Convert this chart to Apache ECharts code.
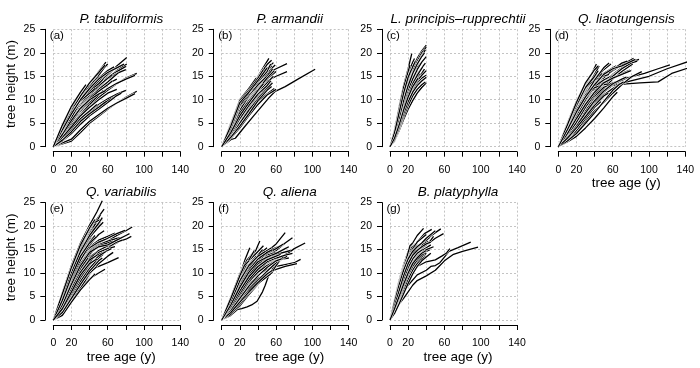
<!DOCTYPE html>
<html>
<head>
<meta charset="utf-8">
<script src="https://cdn.jsdelivr.net/npm/echarts@6/dist/echarts.min.js"></script>
<style>
html,body{margin:0;padding:0;background:#fff;}
#chart{width:700px;height:368px;}
</style>
</head>
<body>
<div id="chart"></div>
<script>
// ---- data: each species = list of trajectories, each trajectory = [age (y), height (m)] pairs ----
const speciesNames = ["P. tabuliformis", "P. armandii", "L. principis\u2013rupprechtii", "Q. liaotungensis", "Q. variabilis", "Q. aliena", "B. platyphylla"];
const panelLetters = ["(a)", "(b)", "(c)", "(d)", "(e)", "(f)", "(g)"];
const xTicks = [0, 20, 40, 60, 80, 100, 120, 140];
const xTickLabels = [0, 20, 60, 100, 140];
const yTicks = [0, 5, 10, 15, 20, 25];

const tabuliformis = [
 [[0,0],[10,4],[20,7.8],[30,11],[40,13.5],[50,16],[58,18]],
 [[0,0],[10,3.6],[20,7.2],[30,10.5],[40,13.2],[50,15.6],[60,17.6]],
 [[0,0],[10,3.2],[20,6.8],[30,9.8],[40,12.8],[50,15.2],[56,16.8]],
 [[0,0],[10,2.6],[20,5.6],[30,8.6],[40,11.2],[50,13.2],[60,15.2],[70,17.2],[81,19]],
 [[0,0],[10,2.2],[20,5.2],[30,8],[40,10.6],[50,12.6],[60,14.6],[70,16.2],[81,17.6]],
 [[0,0],[10,2.8],[20,6],[30,9.2],[40,11.8],[50,13.4],[60,14.8],[70,16],[80,17.1]],
 [[0,0],[10,3],[20,6.6],[30,9.5],[40,11.5],[50,13],[60,14.5],[70,15.6],[80,16.4]],
 [[0,0],[10,1.8],[20,4.4],[30,6.8],[40,8.8],[50,10.5],[60,12],[70,13.4],[80,14.6],[92,15.6]],
 [[0,0],[10,2],[20,4.8],[30,7.4],[40,9.5],[50,11.2],[60,12.4],[70,13.5],[80,14.4],[90,15.2]],
 [[0,0],[10,1.8],[20,4],[30,6],[40,7.6],[50,9],[60,10.2],[70,11.2],[80,12]],
 [[0,0],[10,1.5],[20,3.6],[30,5.5],[40,7.2],[50,8.6],[60,9.8],[75,11.4]],
 [[0,0],[10,0.6],[20,1.2],[30,3],[40,5],[50,6.5],[60,8],[70,9.3],[80,10.5],[92,11.8]],
 [[0,0],[10,0.8],[20,1.6],[30,3.6],[40,5.4],[50,6.8],[60,8.2],[70,9.3],[80,10.3],[90,11.3]],
 [[0,0],[10,2.5],[20,5.8],[30,8.6],[40,11],[50,13],[65,15.4]],
 [[0,0],[10,2.4],[20,5],[30,7.6],[40,10],[50,12],[60,13.4],[70,14.4]],
 [[0,0],[10,3.4],[20,6.6],[30,9],[40,10.8],[50,12],[60,13]],
 [[0,0],[10,4.2],[20,8],[30,10.6],[40,12.8],[50,15]],
 [[0,0],[10,3.8],[20,7.4],[30,10.2],[45,14]],
 [[0,0],[10,4.4],[20,8.2],[30,10.8],[40,13]],
 [[0,0],[10,3.5],[20,6.8],[35,11]],
 [[0,0],[10,2],[20,4.6],[30,7],[40,9],[55,12]],
 [[0,0],[10,2.8],[20,6],[30,9],[40,11.6],[50,13.6],[65,16.5]],
 [[0,0],[10,1.6],[20,3.8],[30,6],[40,7.6],[48,9]],
 [[0,0],[10,2.2],[20,4.6],[30,6.8],[40,9]],
 [[0,0],[10,3],[20,5.8],[30,8]],
 [[0,0],[10,3.2],[20,6.4],[30,9.4],[40,12],[50,14],[60,16]],
 [[0,0],[10,2.6],[20,5.4],[30,8.2],[40,10.4],[50,12.2],[60,13.8],[72,15.8]],
 [[0,0],[10,1.2],[20,2.8],[30,4.8],[40,6.6],[50,8],[60,9.4],[68,10.6]],
 [[0,0],[10,3.8],[20,7.6],[30,10.8],[40,13.6],[50,15.8],[57,17.4]],
 [[0,0],[10,3],[20,6.2],[30,9.6],[40,12.4],[50,14.6],[60,16.2],[67,17]],
 [[0,0],[10,2.4],[20,5.2],[30,8],[40,10.2],[50,11.8],[60,13.2],[65,14]],
 [[0,0],[10,3.4],[20,7],[30,9.8],[40,11.8],[50,13.4],[55,14.4]],
 [[0,0],[10,2],[20,4.2],[30,6.6],[40,8.4],[50,10],[60,11.4],[70,12.2]],
 [[0,0],[10,4],[20,7.4],[30,9.8],[40,11.4],[46,12.4]],
 [[0,0],[10,2.6],[20,5.6],[30,8.2],[40,10],[50,11.2],[58,12]],
 [[0,0],[10,3.6],[20,7],[30,10],[40,12.4],[50,14.4],[60,15.8],[70,16.8],[78,17.6]],
 [[0,0],[10,1.4],[20,3.2],[30,5.4],[40,7],[50,8.4],[58,9.6]],
 [[0,0],[10,4.6],[20,8.6],[30,11.6],[36,13.2]]
];

const armandii = [
 [[0,0],[10,5],[22,10.6],[30,12.2],[40,15],[52,18.8]],
 [[0,0],[10,4.6],[21,10.2],[30,12],[40,14.8],[50,17.5],[55,18.4]],
 [[0,0],[10,4.4],[20,9.6],[30,11.8],[40,14.2],[50,16.6],[57,17.9]],
 [[0,0],[10,4],[20,8.8],[30,11.4],[40,13.6],[50,15.8],[59,17.4]],
 [[0,0],[10,3.6],[20,8],[30,10.8],[40,13.2],[50,15.6],[60,16.6],[72,17.7]],
 [[0,0],[10,3.4],[20,7.4],[30,10.2],[40,12.4],[50,14],[60,15],[72,16]],
 [[0,0],[10,1.5],[15,1.8],[25,4.2],[35,6.5],[45,8.8],[52,10.4],[59,11.8],[70,12.8],[85,14.5],[103,16.5]],
 [[0,0],[10,3],[20,7],[30,10],[40,12.6],[48,15]],
 [[0,0],[10,3.8],[20,8.4],[30,11],[40,13.4],[47,16]],
 [[0,0],[10,4.2],[20,9],[30,11.6],[40,14],[48,17]],
 [[0,0],[10,2.8],[20,6.4],[30,9.2],[40,11.6],[50,13.6],[57,15]],
 [[0,0],[10,2.4],[20,5.6],[30,8.4],[40,10.8],[50,12.8],[55,13.8]],
 [[0,0],[10,2],[20,4.8],[30,7.4],[40,9.6],[50,11.2],[58,12.4]],
 [[0,0],[10,1.8],[20,4],[30,6.6],[40,9],[50,11],[60,12.2]],
 [[0,0],[10,3.2],[20,7.6],[30,10.4],[40,12.8],[44,14]],
 [[0,0],[10,4.8],[20,10],[30,12.4],[38,14.6]],
 [[0,0],[10,2.2],[20,5.2],[30,8],[40,10.4],[45,11.5]],
 [[0,0],[10,3.6],[20,8.2],[30,10.6],[40,13],[50,15.4],[54,16.4]],
 [[0,0],[10,2.6],[20,6],[30,9],[40,11.8],[50,14.6],[56,16.6]],
 [[0,0],[10,4.2],[20,9.2],[30,11.2],[40,13.8],[50,16.2],[55,17.2]],
 [[0,0],[10,3],[20,6.8],[30,9.6],[40,12],[50,14.4],[60,16]],
 [[0,0],[10,2.2],[20,5],[30,7.8],[40,10.2],[50,12.4],[56,13.6]],
 [[0,0],[10,3.4],[20,7.8],[30,10.8],[36,12.4]],
 [[0,0],[10,4.6],[20,9.8],[30,12],[40,14.6],[46,16.4]],
 [[0,0],[10,4],[20,8.6],[30,11],[40,13.2],[50,15],[53,15.8]],
 [[0,0],[10,3.2],[20,7.2],[30,9.8],[40,12.2],[50,14.6],[58,16.2]],
 [[0,0],[10,2.6],[20,6],[30,8.8],[40,11.2],[50,13],[54,14]],
 [[0,0],[10,3.8],[20,8.8],[30,11.4],[40,13.8],[50,16],[54,17.6]],
 [[0,0],[10,2],[20,4.4],[30,7],[40,9.8],[50,12],[55,12.8]],
 [[0,0],[10,4.4],[20,9.4],[30,11.6],[42,14.6],[50,16.8]],
 [[0,0],[10,3],[20,6.6],[30,9.4],[40,12],[46,13.4]]
];

const principis = [
 [[0,0],[5,2.8],[10,7],[15,11],[20,14.2],[25,16.8],[30,18.8],[35,20.4],[40,21.6]],
 [[0,0],[5,2.4],[10,6.2],[15,10],[20,13.2],[25,16],[30,18.2],[35,20],[40,21.2]],
 [[0,0],[5,2.2],[10,5.8],[15,9.6],[20,12.8],[25,15.4],[30,17.6],[35,19.4],[39,20.6]],
 [[0,0],[5,3.6],[10,8.4],[15,13],[20,16.6],[24,19.8]],
 [[0,0],[5,3],[10,7.4],[15,11.6],[20,15],[23,17]],
 [[0,0],[5,2],[10,5.2],[15,8.6],[20,11.6],[25,13.8],[30,15.4],[35,16.8],[39,17.8]],
 [[0,0],[5,1.8],[10,4.8],[15,8],[20,10.8],[25,13],[30,14.6],[35,15.6],[38,16.5]],
 [[0,0],[5,1.6],[10,4.2],[15,7.2],[20,9.8],[25,12],[30,13.6],[35,14.6],[40,15.2]],
 [[0,0],[5,1.2],[10,3.4],[15,5.8],[20,8],[25,9.8],[30,11.4],[35,12.6],[40,13.6]],
 [[0,0],[5,1.4],[10,3.8],[15,6.4],[20,8.8],[25,10.8],[30,12.2],[35,13.2],[39,13.8]],
 [[0,0],[5,2.6],[10,6.4],[15,10.2],[20,13.6],[25,16.2],[28,17.4]],
 [[0,0],[5,2.2],[10,5.6],[15,9.2],[20,12.4],[25,14.8],[30,16.2]],
 [[0,0],[5,3.2],[10,7.8],[15,12.2],[20,15.6],[25,18],[27,18.8]],
 [[0,0],[5,2.6],[10,6.8],[15,10.6],[20,13.6],[25,15.6],[30,17],[34,17.8]],
 [[0,0],[5,1.8],[10,5],[15,8.4],[20,11.4],[25,13.6],[30,15],[33,15.6]],
 [[0,0],[5,2],[10,5.4],[15,9],[20,12],[25,14.4],[30,16.4],[35,18],[40,19.2]],
 [[0,0],[5,1.6],[10,4.4],[15,7.6],[20,10.4],[25,12.6],[30,14],[35,15.2],[40,16.2]],
 [[0,0],[5,3.4],[10,8],[15,12.6],[20,16],[22,17.4]],
 [[0,0],[5,2.8],[10,7],[15,11],[20,14.4],[25,17],[28,18.2]],
 [[0,0],[5,2],[10,5],[15,8.2],[20,11],[25,13.4],[30,15.2],[36,17]],
 [[0,0],[5,1.4],[10,4],[15,7],[20,9.6],[25,11.6],[30,13],[35,14],[40,14.8]],
 [[0,0],[5,2.4],[10,6],[15,9.8],[20,13],[25,15.6],[30,17.6],[35,19.2],[38,20]],
 [[0,0],[5,3],[10,7.2],[15,11.4],[20,14.8],[24,16.6]],
 [[0,0],[5,1.8],[10,4.6],[15,7.8],[20,10.6],[25,12.8],[31,14.6]]
];

const liaotungensis = [
 [[0,0],[10,4.6],[20,9],[30,13],[38,16],[42,17.6]],
 [[0,0],[10,4],[20,8.2],[30,12.2],[40,15.4],[45,17.2]],
 [[0,0],[10,3.6],[20,7.6],[30,11.4],[40,14.2],[50,16.4],[58,17.6]],
 [[0,0],[10,3],[20,6.8],[30,10.4],[40,13],[50,14.8],[60,16.2],[70,17.4],[83,18.8]],
 [[0,0],[10,2.4],[20,5.8],[30,9.2],[40,11.8],[50,13.8],[60,15.4],[70,16.8],[80,18],[89,18.6]],
 [[0,0],[10,2],[20,5],[30,8.4],[40,11],[50,13],[60,14.6],[70,15.6],[79,16.3]],
 [[0,0],[10,3.2],[20,7],[30,10.2],[40,12.2],[50,12.8],[60,13],[75,13.4],[90,13.6],[110,13.8],[125,15.6],[147,17]],
 [[0,0],[10,2.6],[20,5.6],[30,8.8],[40,11],[50,12.2],[60,13],[80,14],[100,15],[120,16.6],[143,18.1]],
 [[0,0],[10,2.2],[20,4.8],[30,7.6],[40,10],[50,11.8],[60,13.2],[75,14.6],[95,15.6],[110,16.6],[123,17.4]],
 [[0,0],[10,1.2],[20,3],[30,5.4],[40,7.6],[50,9.4],[60,11.4],[70,13.2],[80,14.8],[92,16]],
 [[0,0],[10,1],[20,2.2],[30,4],[40,6],[50,8.2],[60,10.6],[65,11.6]],
 [[0,0],[10,1.6],[20,3.8],[30,6.2],[40,8.6],[50,10.6],[56,11.8]],
 [[0,0],[10,5],[20,9.6],[30,13.4],[36,15.4]],
 [[0,0],[10,4.4],[20,8.6],[30,12],[40,14.6],[46,15.8]],
 [[0,0],[10,3.8],[20,8],[30,11.6],[40,13.6],[50,14.4],[55,14.6]],
 [[0,0],[10,3.4],[20,7.2],[30,10.8],[40,13.4],[50,15.6],[60,16.8],[64,17.2]],
 [[0,0],[10,2.8],[20,6.2],[30,9.6],[40,12.4],[50,14.6],[60,16.4],[70,17.8],[76,18.2]],
 [[0,0],[10,2.2],[20,5.2],[30,8],[40,10.4],[50,12.4],[60,14.4],[70,16],[82,17.6]],
 [[0,0],[10,1.8],[20,4.4],[30,7],[40,9.4],[50,11.6],[58,12.8]],
 [[0,0],[10,4.2],[20,8.4],[30,12.4],[35,14]],
 [[0,0],[10,3],[20,6.4],[30,9.8],[40,12.6],[50,13.8],[56,14.4]],
 [[0,0],[10,2.6],[20,5.8],[30,9],[40,11.4],[48,12.6]],
 [[0,0],[10,1.4],[20,3.4],[30,6],[40,8.4],[47,9.6]],
 [[0,0],[10,3.6],[20,7.8],[30,11.2],[40,14],[48,15.6]],
 [[0,0],[10,2],[20,4.6],[30,7.6],[40,10.6],[50,13.4],[60,15.2],[66,16]],
 [[0,0],[10,4.8],[20,9.2],[30,12.6],[40,14.2],[50,15],[56,15.4]],
 [[0,0],[10,3.2],[20,7.4],[30,11],[40,14.2],[50,16.8],[56,17.8]],
 [[0,0],[10,2.4],[20,5.4],[30,8.4],[40,10.8],[50,12.6],[60,13.6],[70,14.2]],
 [[0,0],[10,1.6],[20,4],[30,6.6],[40,9],[50,11],[60,12.4],[72,13.8]],
 [[0,0],[10,4],[20,7.6],[25,9.6],[30,10.4],[35,11.6],[40,12.2]],
 [[0,0],[10,4.4],[20,8.8],[30,12.6],[40,15],[44,16.2]],
 [[0,0],[10,3.8],[20,7.8],[30,11],[40,13.2],[50,14.2],[60,14.8],[66,15.2]],
 [[0,0],[10,3],[20,6.6],[30,10],[40,12.8],[50,14.2],[58,15]],
 [[0,0],[10,2.4],[20,5.2],[30,8.4],[40,11.2],[50,13.4],[60,15],[70,16.6],[80,17.8],[87,18.2]],
 [[0,0],[10,2],[20,4.4],[30,7.2],[40,9.8],[50,11.8],[60,13.4],[70,14.4],[75,14.8]],
 [[0,0],[10,1.2],[20,2.8],[30,5],[40,7.2],[50,9.6],[60,12],[68,13.4]],
 [[0,0],[10,4.6],[20,9.4],[30,13.6],[40,16.4],[44,17.2]],
 [[0,0],[10,3.4],[20,7.2],[30,10.6],[40,12.6],[50,13.2],[56,13.4]],
 [[0,0],[10,2.8],[20,6],[30,9],[40,11.6],[50,13.6],[60,14.6],[70,15.4],[80,16.2]],
 [[0,0],[10,1.8],[20,4],[30,6.4],[40,8.8],[50,10.8],[55,11.4]],
 [[0,0],[10,3.6],[20,7.4],[30,10.6],[40,13.2],[50,15.4],[60,16.6],[70,17.2],[85,18.6]]
];

const variabilis = [
 [[0,0],[10,5.8],[20,11.6],[30,16.4],[40,20.2],[48,23],[54,25.4]],
 [[0,0],[10,5.2],[20,10.8],[30,15.6],[40,19.2],[50,22],[56,23.6]],
 [[0,0],[10,4.8],[20,10.2],[30,14.8],[40,18.4],[48,21],[52,22.4]],
 [[0,0],[10,5.4],[20,11],[30,15.4],[38,19],[44,20.6],[50,21.2],[54,21.4]],
 [[0,0],[10,4.4],[20,9.4],[30,13.8],[40,17.2],[46,19.4],[52,20.8]],
 [[0,0],[10,4],[20,8.8],[30,13],[40,15.6],[50,17],[60,17.8],[68,18.5]],
 [[0,0],[10,3.4],[20,7.8],[30,11.8],[40,14.2],[50,15.6],[60,16.8],[70,18],[80,19],[87,19.8]],
 [[0,0],[10,3],[20,7],[30,10.8],[40,13.4],[50,14.8],[60,15.8],[70,16.6],[80,17.2],[86,17.8]],
 [[0,0],[10,3.6],[20,8.2],[30,12.4],[40,15],[50,16.4],[60,17.4],[70,18.4],[79,19.1]],
 [[0,0],[10,2.6],[20,6.4],[30,10],[40,12.6],[50,14.4],[60,15.4],[72,16.6]],
 [[0,0],[10,2.2],[20,5.6],[30,8.8],[40,10.6],[50,11.4],[60,12.2],[72,13.3]],
 [[0,0],[10,1.4],[20,4.4],[30,7],[40,8.8],[50,10],[57,10.8]],
 [[0,0],[10,1.2],[20,4],[30,6.8],[40,9.8],[50,12],[60,13.6],[66,14.4]],
 [[0,0],[10,2],[20,5.2],[30,8.6],[40,11.6],[50,13.8],[60,15.4],[70,16.6],[76,17]],
 [[0,0],[10,3.8],[20,8.6],[30,12.8],[40,15.4],[50,16.6],[58,17.2]],
 [[0,0],[10,4.2],[20,9],[30,13.4],[40,16.6],[46,18]],
 [[0,0],[10,2.8],[20,6.8],[30,10.4],[40,13],[50,14.8],[62,16]],
 [[0,0],[10,3.2],[20,7.4],[30,11.4],[40,14],[44,14.8]],
 [[0,0],[10,1.8],[20,4.8],[30,7.8],[40,10],[48,11.4]],
 [[0,0],[10,5],[20,10.4],[30,15],[40,18],[45,19.6]],
 [[0,0],[10,2.4],[20,6],[30,9.4],[40,12.4],[50,14.4],[60,15.2],[68,15.6]],
 [[0,0],[10,3],[20,7.2],[30,11],[38,13.2]],
 [[0,0],[10,1.6],[20,5],[30,8.2],[40,11],[50,13.2],[55,14]],
 [[0,0],[10,4.6],[20,9.8],[30,14.4],[40,17.6],[50,19.8],[55,20.8]],
 [[0,0],[10,3.4],[20,8],[30,12],[40,14.8],[50,16],[60,16.8],[70,17.4],[76,17.6]],
 [[0,0],[10,1],[20,3.8],[30,6.4],[40,8.6],[46,9.8]],
 [[0,0],[10,4.8],[20,10],[30,14.6],[40,18],[50,20.6],[54,21.8]],
 [[0,0],[10,4],[20,8.6],[30,12.8],[40,16],[50,18.2],[56,19]],
 [[0,0],[10,3.6],[20,8],[30,12],[40,14.6],[50,15.8],[60,16.4],[66,16.8]],
 [[0,0],[10,2.8],[20,6.6],[30,10.2],[40,12.8],[50,14],[60,14.8],[64,15.2]],
 [[0,0],[10,2.2],[20,5.6],[30,9],[40,11.8],[50,13.6],[58,14.6]],
 [[0,0],[10,5.6],[20,11.2],[30,16],[40,19.6],[46,21.4]],
 [[0,0],[10,3.2],[20,7.6],[30,11.6],[40,14.4],[50,15.6],[60,16],[70,17],[80,18],[84,18.4]],
 [[0,0],[10,1.6],[20,4.6],[30,7.6],[40,10.4],[50,12.6],[54,13.2]],
 [[0,0],[10,4.2],[20,9.2],[30,13.6],[40,16.4],[48,17.8]],
 [[0,0],[10,2.4],[20,6],[30,9.6],[40,12],[48,13]]
];

const aliena = [
 [[0,0],[10,4.6],[20,9.6],[26,13],[31,15.4]],
 [[0,0],[10,4],[20,8.6],[30,12.4],[38,15],[42,16.8]],
 [[0,0],[10,3.6],[20,8],[30,11.4],[40,13.8],[50,15.4]],
 [[0,0],[10,3],[20,7],[30,10.2],[40,12.8],[50,14.6],[60,16.2],[70,18.6]],
 [[0,0],[10,2.6],[20,6.2],[30,9.4],[40,11.8],[50,13.6],[60,14.8],[70,16.4],[78,17.5]],
 [[0,0],[10,2.2],[20,5.4],[30,8.4],[40,10.6],[50,12],[60,13],[70,13.8],[80,15.2],[92,16.4]],
 [[0,0],[10,2],[20,4.8],[30,7.6],[40,9.6],[50,10.8],[60,11.4],[70,11.8],[80,12.2],[87,12.9]],
 [[0,0],[10,1.8],[20,4.4],[30,6.8],[40,8.8],[50,10],[60,10.8],[70,11.4],[83,12]],
 [[0,0],[10,2.4],[20,5.8],[30,8.8],[40,11],[50,12.2],[60,12.8],[74,13.2]],
 [[0,0],[10,1],[17,2.2],[22,2.4],[28,2.8],[33,3.2],[39,4],[45,6],[48,7.4],[52,9.6],[58,11.4],[65,12.8],[72,13.6]],
 [[0,0],[10,1.4],[20,3],[30,5.4],[40,7.6],[50,9.6],[55,10],[60,11.6],[66,13.2],[72,14.2]],
 [[0,0],[10,3.2],[20,7.2],[30,10.8],[40,13.2],[50,14.6],[60,15.4],[65,15.8]],
 [[0,0],[10,4.2],[20,9],[30,12.6],[40,14.6],[46,15.8]],
 [[0,0],[10,3.8],[20,8.2],[30,11.2],[40,13.4],[50,14.8],[55,15.4]],
 [[0,0],[10,2.8],[20,6.6],[30,9.8],[40,12.2],[50,13.8],[60,14.4]],
 [[0,0],[10,2],[20,5],[30,8],[40,10.4],[50,12.2],[58,13]],
 [[0,0],[10,3.4],[20,7.6],[30,10.6],[40,12],[46,12.6]],
 [[0,0],[10,4.8],[20,9.8],[28,12.8],[34,14.2]],
 [[0,0],[10,1.6],[20,4],[30,6.4],[40,8.4],[50,10.4],[60,12.2],[68,13.4]],
 [[0,0],[10,2.6],[20,6],[30,9],[40,11.2],[48,12.2]],
 [[0,0],[10,3],[20,6.8],[30,10],[40,12.6],[50,14.2],[60,15.2],[68,16.2]],
 [[0,0],[10,3.6],[20,7.8],[30,11],[40,13.8],[45,15]],
 [[0,0],[10,2.2],[20,5.2],[30,8.2],[40,10.2],[50,11.6],[62,12.8]],
 [[0,0],[10,1.2],[20,3.4],[30,5.8],[40,7.8],[50,9.2],[54,9.8]],
 [[0,0],[10,4.4],[20,8.8],[30,11.8],[38,13.6]],
 [[0,0],[10,2.8],[20,6.4],[30,9.6],[40,11.6],[50,13],[60,14],[76,14.8]],
 [[0,0],[10,4.2],[20,9.2],[30,12.8],[36,14.8]],
 [[0,0],[10,3.4],[20,7.4],[30,10.6],[40,13],[50,14.4],[56,15]],
 [[0,0],[10,3],[20,6.4],[30,9.6],[40,12],[50,13.4],[60,14.2],[70,15.2],[74,15.6]],
 [[0,0],[10,2.4],[20,5.6],[30,8.6],[40,10.8],[50,12.4],[60,13.2],[70,13.8],[78,14.2]],
 [[0,0],[10,2],[20,4.6],[30,7.2],[40,9.4],[50,11.2],[60,12.6],[66,13]],
 [[0,0],[10,1.6],[20,3.8],[30,6],[40,8],[50,9.8],[56,10.6]],
 [[0,0],[10,3.8],[20,8.4],[30,11.6],[40,13.6],[48,14.6]],
 [[0,0],[10,2.8],[20,6.2],[30,9.2],[40,11.4],[50,12.8],[60,13.6],[65,14]],
 [[0,0],[10,4.6],[20,9.4],[25,11.6],[30,12.6]],
 [[0,0],[10,3.2],[20,7],[30,10.2],[40,12.4],[50,13.4],[55,13.8]]
];

const platyphylla = [
 [[0,0],[5,4.4],[10,8.4],[15,11.8],[20,14.6],[25,16.4],[30,18],[37,19.5]],
 [[0,0],[5,3.6],[10,7.2],[15,10.4],[20,13],[25,15],[30,16.6],[38,18.4],[46,19.3]],
 [[0,0],[5,3],[10,6.2],[15,9.2],[20,11.8],[25,13.8],[30,15.2],[40,17.2],[50,18.6],[56,19.4]],
 [[0,0],[5,2.6],[10,5.6],[15,8.4],[20,10.8],[25,12.8],[30,14.2],[40,16],[50,17.4],[59,18.4]],
 [[0,0],[5,1.8],[10,3.4],[15,4.6],[20,6],[25,7.4],[30,8.4],[40,9.4],[50,10.6],[60,12.6],[70,14],[80,14.6],[97,15.5]],
 [[0,0],[5,2.2],[10,4.4],[15,6],[20,7.4],[30,9.6],[40,10.6],[45,11.4],[50,11.6],[55,12.2],[60,13.4],[65,14.6],[75,15.4],[89,16.6]],
 [[0,0],[5,2.4],[10,5],[15,7.2],[20,9.2],[30,11.4],[40,12.4],[50,12.8],[57,13.6],[62,14.2],[66,15.2]],
 [[0,0],[5,4],[10,7.8],[15,11.4],[20,14],[24,15.4],[28,16.2]],
 [[0,0],[5,3.4],[10,6.8],[15,10],[20,12.6],[25,14.4],[30,15.6],[35,16.2]],
 [[0,0],[5,2.8],[10,5.8],[15,8.8],[20,11.2],[25,13],[30,14],[35,14.8],[40,15.4],[45,16]],
 [[0,0],[5,2.2],[10,4.8],[15,7.4],[20,9.8],[25,11.8],[30,13.2],[35,14],[40,14.6],[44,15]],
 [[0,0],[5,2],[10,4.4],[15,6.8],[20,9],[25,11],[30,12.4],[35,13.4],[40,14.2]],
 [[0,0],[5,3.8],[10,7.6],[15,11],[20,13.4],[25,15.2],[30,16.6],[35,17.4],[40,18.2]],
 [[0,0],[5,3.2],[10,6.4],[15,9.6],[20,12.2],[25,14],[30,15.4],[35,16],[42,16.8]],
 [[0,0],[5,2.6],[10,5.4],[15,8.2],[20,10.6],[25,12.4],[30,13.6],[35,14.4],[40,15],[48,15.6]],
 [[0,0],[5,4.2],[10,8],[15,11.2],[18,13],[22,15.8],[25,16.4]],
 [[0,0],[5,1.6],[10,3.8],[15,6.2],[20,8.6],[25,10.6],[30,12],[35,13],[40,13.6]],
 [[0,0],[5,3],[10,6],[15,9],[20,11.6],[25,13.6],[30,14.8],[35,15.4],[40,16],[45,17],[48,17.8]],
 [[0,0],[5,2.4],[10,5.2],[15,8],[20,10.4],[25,12.2],[30,13.4],[36,14.6]],
 [[0,0],[5,3.6],[10,7],[15,10.2],[20,12.4],[25,13.8],[30,14.6],[33,15]],
 [[0,0],[5,4],[10,7.6],[15,10.8],[20,13.2],[25,14.8],[30,15.8],[33,16.2]],
 [[0,0],[5,3.2],[10,6.6],[15,9.8],[20,12.4],[25,14.2],[30,15.4],[35,16.4],[40,17],[44,17.6]],
 [[0,0],[5,2.6],[10,5.6],[15,8.6],[20,11.2],[25,13],[30,14.2],[36,15]],
 [[0,0],[5,2],[10,4.6],[15,7.2],[20,9.6],[25,11.4],[30,12.8],[35,13.8],[38,14.2]],
 [[0,0],[5,3.8],[10,7.4],[15,10.6],[20,13],[25,14.6],[30,15.6],[35,16.4],[40,17.4],[45,18.2],[50,19]],
 [[0,0],[5,3],[10,6.2],[15,9.4],[20,12],[25,13.8],[30,14.8],[35,15.6],[40,16.2],[45,16.6]],
 [[0,0],[5,1.4],[10,3.4],[15,5.6],[20,7.8],[25,9.8],[30,11.4],[35,12.6],[40,13.4],[45,14.2]],
 [[0,0],[5,2.4],[10,5],[15,7.6],[20,10],[25,12],[30,13.2],[35,14.2],[40,14.8]]
];

const allSpecies = [tabuliformis, armandii, principis, liaotungensis, variabilis, aliena, platyphylla];

// ---- layout ----
const FONT = '"Liberation Sans", Arial, Helvetica, sans-serif';
const colLeft = [53.3, 221.7, 390, 558.3];
const rowTop = [29.3, 202.6];
const plotW = 127, plotH = 117.4;
const panelPos = [[0,0],[0,1],[0,2],[0,3],[1,0],[1,1],[1,2]];

const grids = [], xAxes = [], yAxes = [], series = [], graphics = [];
const gridLine = { show: true, lineStyle: { color: '#c4c4c4', type: [2, 2], width: 1 } };

panelPos.forEach(([r, c], i) => {
  const L = colLeft[c], T = rowTop[r];
  grids.push({ left: L, top: T, width: plotW, height: plotH, containLabel: false });
  xAxes.push({
    gridIndex: i, type: 'value', min: xTicks[0], max: xTicks[xTicks.length - 1], interval: 20,
    offset: 5,
    axisLine: { show: true, onZero: false, lineStyle: { color: '#000', width: 1 } },
    axisTick: { show: true, length: 5, lineStyle: { color: '#000', width: 1 } },
    axisLabel: {
      show: true, margin: 13, color: '#000', fontFamily: FONT, fontSize: 10.5,
      formatter: v => xTickLabels.indexOf(v) >= 0 ? String(v) : ''
    },
    splitLine: gridLine
  });
  yAxes.push({
    gridIndex: i, type: 'value', min: yTicks[0], max: yTicks[yTicks.length - 1], interval: 5,
    offset: 8,
    axisLine: { show: true, onZero: false, lineStyle: { color: '#000', width: 1 } },
    axisTick: { show: true, length: 5, lineStyle: { color: '#000', width: 1 } },
    axisLabel: { show: true, margin: 10, color: '#000', fontFamily: FONT, fontSize: 10.5 },
    splitLine: gridLine
  });
  allSpecies[i].forEach(traj => {
    series.push({
      type: 'line', xAxisIndex: i, yAxisIndex: i, data: traj, showSymbol: false, symbol: 'none',
      silent: true, clip: false, lineStyle: { color: '#ffffff', width: 2.3 }
    });
    series.push({
      type: 'line', xAxisIndex: i, yAxisIndex: i, data: traj, showSymbol: false, symbol: 'none',
      silent: true, clip: false, lineStyle: { color: '#000000', width: 1.3 }
    });
  });
  graphics.push({ type: 'text', x: L + plotW / 2 + 4.5, y: T - 10.5,
    style: { text: speciesNames[i], font: 'italic 13.5px ' + FONT, fill: '#000', textAlign: 'center', textVerticalAlign: 'middle' } });
  graphics.push({ type: 'text', x: L - 3.5, y: T + 6.7,
    style: { text: panelLetters[i], font: '11.5px ' + FONT, fill: '#000', textAlign: 'left', textVerticalAlign: 'middle' } });
  if (c === 0) {
    graphics.push({ type: 'text', x: 11, y: T + plotH / 2 - 4, rotation: Math.PI / 2,
      style: { text: 'tree height (m)', font: '13.5px ' + FONT, fill: '#000', textAlign: 'center', textVerticalAlign: 'middle' } });
  }
  if (r === 1 || c === 3) {
    graphics.push({ type: 'text', x: L + plotW / 2 + 4.5, y: T + plotH + 37,
      style: { text: 'tree age (y)', font: '13.5px ' + FONT, fill: '#000', textAlign: 'center', textVerticalAlign: 'middle' } });
  }
});

const chart = echarts.init(document.getElementById('chart'), null, { renderer: 'canvas' });
chart.setOption({
  animation: false,
  backgroundColor: '#ffffff',
  grid: grids, xAxis: xAxes, yAxis: yAxes, series: series,
  graphic: graphics
});
</script>
</body>
</html>
